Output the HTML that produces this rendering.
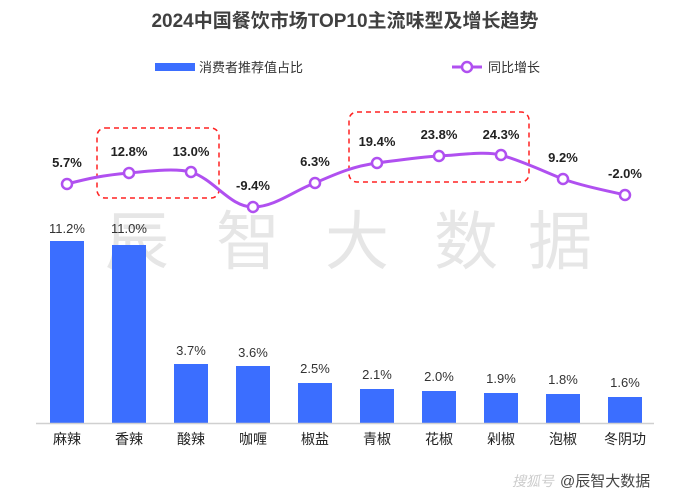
<!DOCTYPE html>
<html><head><meta charset="utf-8"><style>
body{margin:0;background:#fff;}
svg{display:block;font-family:"Liberation Sans","Noto Sans CJK SC",sans-serif;}
</style></head><body>
<svg width="690" height="501" viewBox="0 0 690 501">
<text x="345" y="27" text-anchor="middle" font-size="19" font-weight="bold" fill="#404040">2024中国餐饮市场TOP10主流味型及增长趋势</text>
<rect x="155" y="63" width="40" height="8" fill="#3b6eff"/>
<text x="199" y="72" font-size="13" fill="#333">消费者推荐值占比</text>
<line x1="452" y1="67" x2="482" y2="67" stroke="#b050f0" stroke-width="3"/>
<circle cx="467" cy="67" r="5" fill="#fff" stroke="#b050f0" stroke-width="2.5"/>
<text x="488" y="72" font-size="13" fill="#333">同比增长</text>
<g font-size="64" fill="#e6e6e6" text-anchor="middle">
<text x="137" y="264">辰</text><text x="248" y="264">智</text><text x="357" y="264">大</text><text x="466" y="264">数</text><text x="560" y="264">据</text>
</g>
<g fill="#3b6eff">
<rect x="50" y="241" width="34" height="182"/>
<rect x="112" y="245" width="34" height="178"/>
<rect x="174" y="364" width="34" height="59"/>
<rect x="236" y="366" width="34" height="57"/>
<rect x="298" y="383" width="34" height="40"/>
<rect x="360" y="389" width="34" height="34"/>
<rect x="422" y="391" width="34" height="32"/>
<rect x="484" y="393" width="34" height="30"/>
<rect x="546" y="394" width="34" height="29"/>
<rect x="608" y="397" width="34" height="26"/>
</g>
<line x1="36" y1="423.5" x2="654" y2="423.5" stroke="#d0d0d0" stroke-width="1.5"/>
<g font-size="13" fill="#333" text-anchor="middle">
<text x="67" y="233">11.2%</text><text x="129" y="233">11.0%</text>
<text x="191" y="355">3.7%</text><text x="253" y="357">3.6%</text>
<text x="315" y="373">2.5%</text><text x="377" y="379">2.1%</text>
<text x="439" y="381">2.0%</text><text x="501" y="383">1.9%</text>
<text x="563" y="384">1.8%</text><text x="625" y="387">1.6%</text>
</g>
<g font-size="14" fill="#222" text-anchor="middle">
<text x="67" y="444">麻辣</text><text x="129" y="444">香辣</text><text x="191" y="444">酸辣</text>
<text x="253" y="444">咖喱</text><text x="315" y="444">椒盐</text><text x="377" y="444">青椒</text>
<text x="439" y="444">花椒</text><text x="501" y="444">剁椒</text><text x="563" y="444">泡椒</text>
<text x="625" y="444">冬阴功</text>
</g>
<rect x="97" y="128" width="122" height="70" rx="8" fill="none" stroke="#f22" stroke-width="1.5" stroke-dasharray="5,4"/>
<rect x="349" y="112" width="180" height="70" rx="8" fill="none" stroke="#f22" stroke-width="1.5" stroke-dasharray="5,4"/>
<path d="M67,184 C90,178 105,175 129,173 C150,171 175,168 191,172 C215,180 230,207 253,207 C275,207 295,190 315,183 C340,172 355,166 377,163 C400,160 420,157 439,156 C460,155 485,151 501,155 C525,162 545,172 563,179 C585,187 605,190 625,195" fill="none" stroke="#b050f0" stroke-width="3"/>
<g fill="#fff" stroke="#b050f0" stroke-width="2.5">
<circle cx="67" cy="184" r="5"/><circle cx="129" cy="173" r="5"/><circle cx="191" cy="172" r="5"/>
<circle cx="253" cy="207" r="5"/><circle cx="315" cy="183" r="5"/><circle cx="377" cy="163" r="5"/>
<circle cx="439" cy="156" r="5"/><circle cx="501" cy="155" r="5"/><circle cx="563" cy="179" r="5"/>
<circle cx="625" cy="195" r="5"/>
</g>
<g font-size="13" font-weight="bold" fill="#222" text-anchor="middle">
<text x="67" y="167">5.7%</text><text x="129" y="156">12.8%</text><text x="191" y="156">13.0%</text>
<text x="253" y="190">-9.4%</text><text x="315" y="166">6.3%</text><text x="377" y="146">19.4%</text>
<text x="439" y="139">23.8%</text><text x="501" y="139">24.3%</text><text x="563" y="162">9.2%</text>
<text x="625" y="178">-2.0%</text>
</g>
<text x="512" y="486" font-size="14" font-style="italic" fill="#ccc">搜狐号</text>
<text x="560" y="486" font-size="15" fill="#444">@辰智大数据</text>
</svg>
</body></html>
